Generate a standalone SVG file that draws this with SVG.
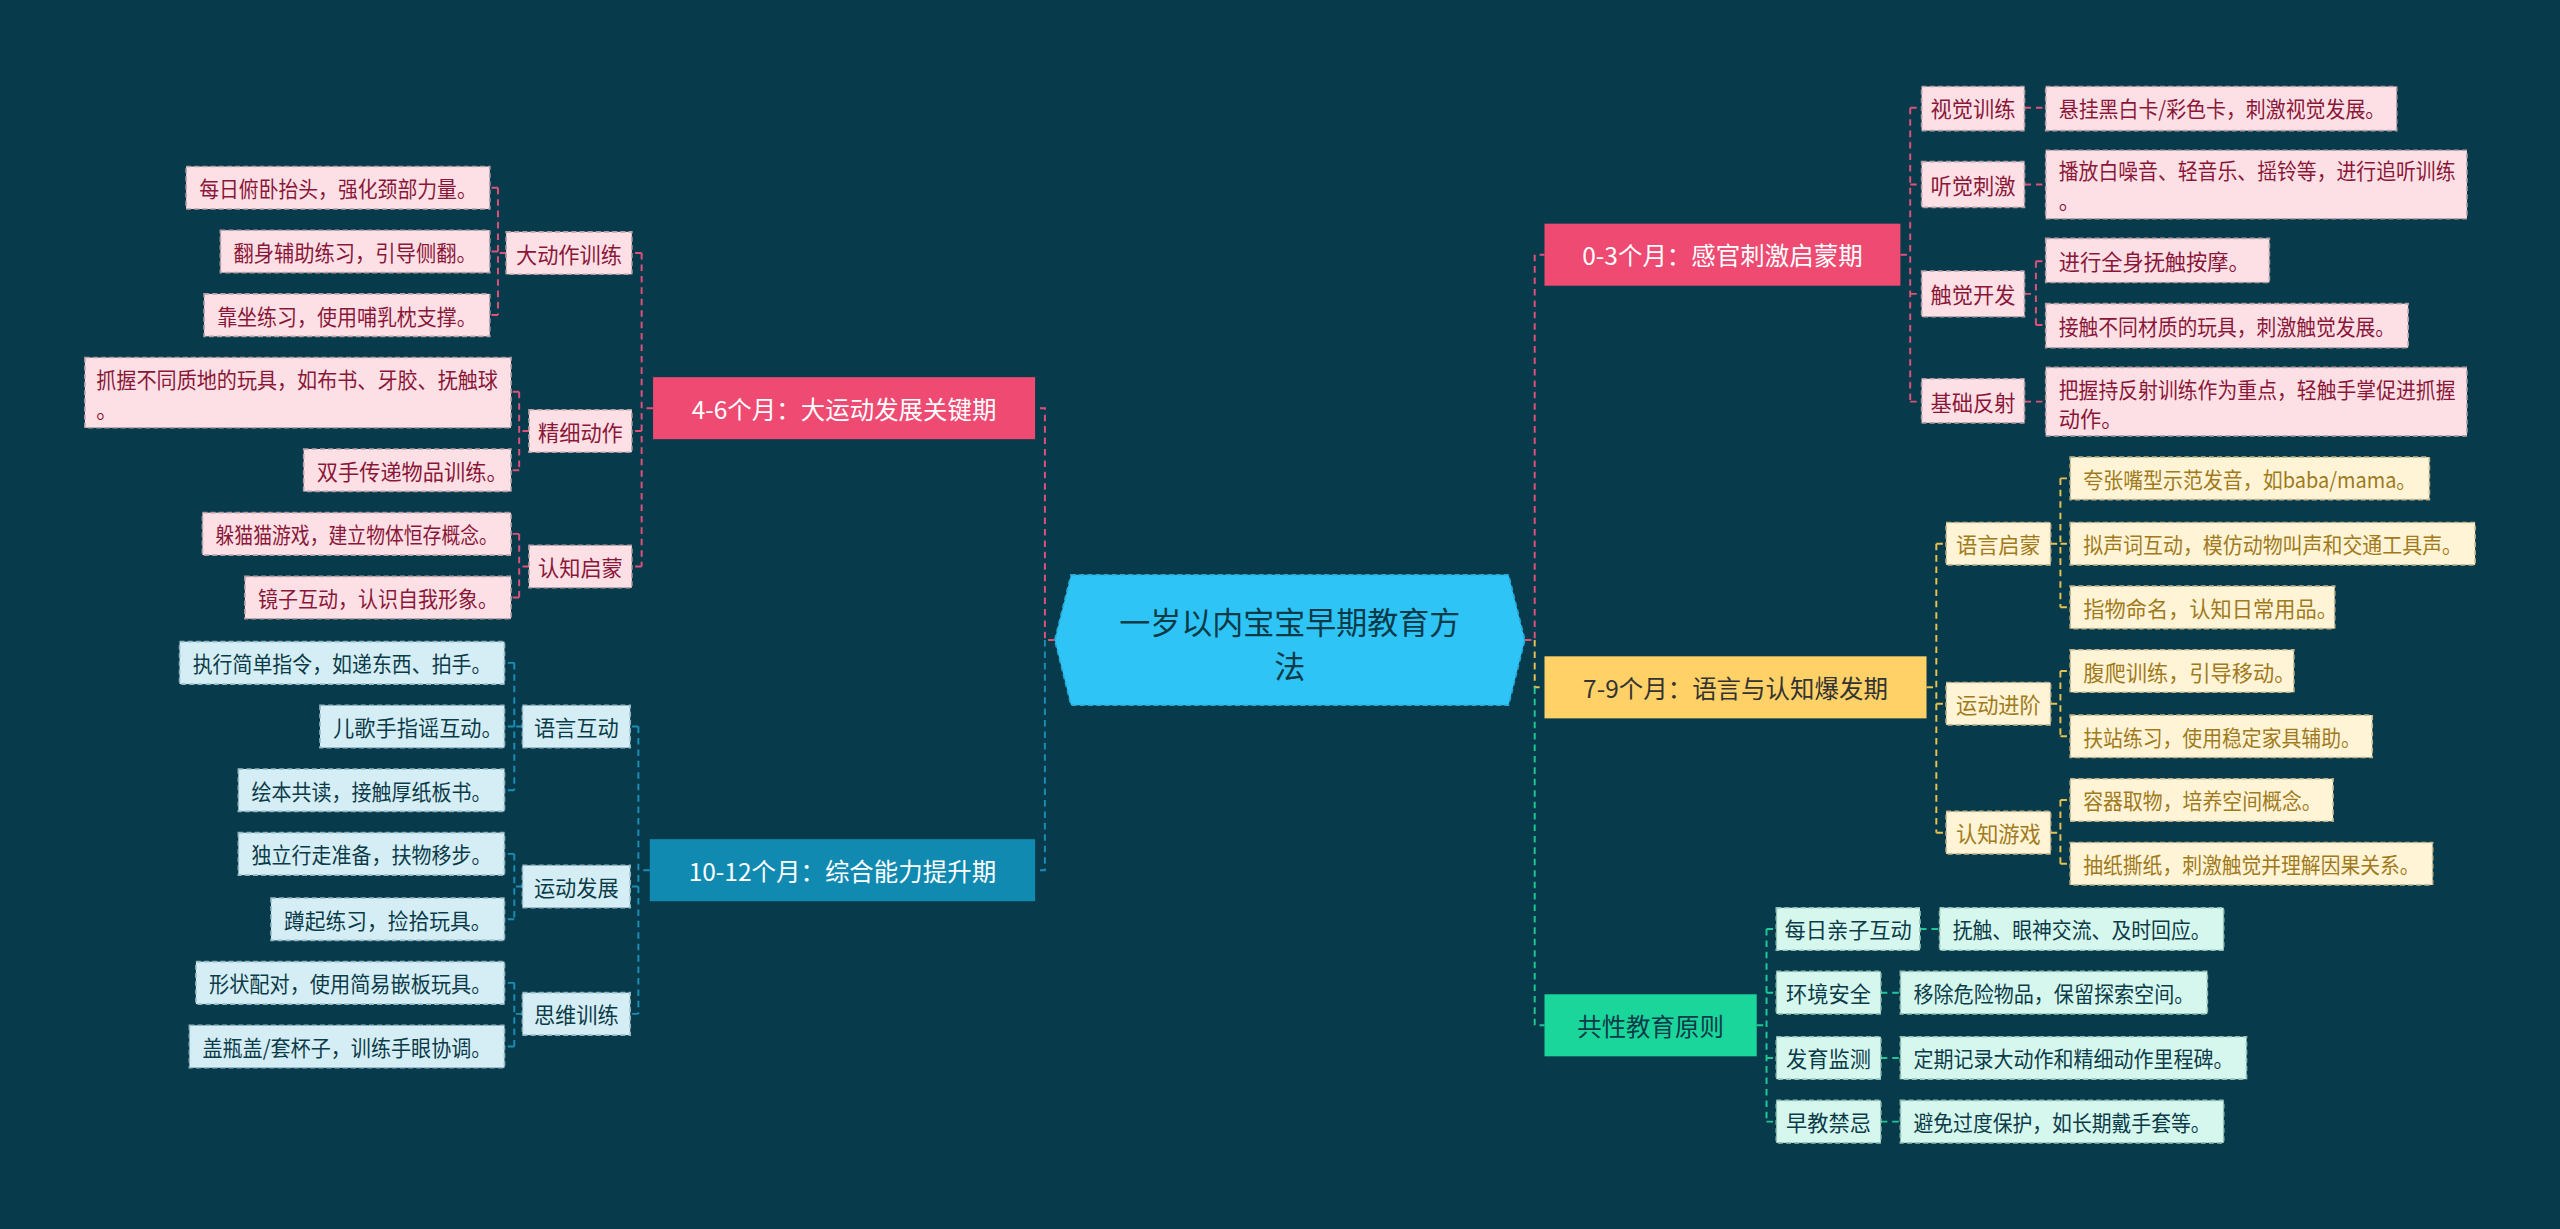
<svg xmlns="http://www.w3.org/2000/svg" width="2560" height="1229" viewBox="0 0 2560 1229">
<style>
text{font-family:"Noto Sans CJK SC","Liberation Sans",sans-serif;font-size:13px;dominant-baseline:central}
.c{stroke-width:1.2;fill:none;stroke-dasharray:4 3}
.pk{stroke:#e0517a}.yl{stroke:#e8c14f}.gr{stroke:#1fc996}.bl{stroke:#1b8db5}
.lp{fill:#fde0e6;stroke:#b9a0a6;stroke-dasharray:3 2}.tp{fill:#8a1738}
.ly{fill:#fff4d6;stroke:#c8b68a;stroke-dasharray:3 2}.ty{fill:#a07a1c}
.lg{fill:#d6f7ee;stroke:#94c2b4;stroke-dasharray:3 2}.tg{fill:#0b3b48}
.lb{fill:#d5eef6;stroke:#94b8c4;stroke-dasharray:3 2}.tb{fill:#0b3b48}
.m{font-size:15px}
.ct{font-size:19px;fill:#0b3b48}
</style>
<rect width="2560" height="1229" fill="#073a4b"/>
<g transform="scale(1.63265)">
<g id="connectors">
<path class="c pk" d="M934 392H940V156H946"/>
<path class="c yl" d="M940 392V421H946"/>
<path class="c gr" d="M940 421V628H946"/>
<path class="c pk" d="M1164 156H1170M1170 66V246M1170 66H1177M1170 113H1177M1170 180H1177M1170 246H1177"/>
<path class="c pk" d="M1240 66H1253M1240 113H1253M1240 180H1247M1247 160V199M1247 160H1253M1247 199H1253M1240 246H1253"/>
<path class="c yl" d="M1180 421H1186M1186 333V510M1186 333H1192M1186 431H1192M1186 510H1192"/>
<path class="c yl" d="M1256 333H1262M1262 293V372M1262 293H1268M1262 333H1268M1262 372H1268M1256 431H1262M1262 411V451M1262 411H1268M1262 451H1268M1256 510H1262M1262 490V529M1262 490H1268M1262 529H1268"/>
<path class="c gr" d="M1076 628H1082M1082 569V687M1082 569H1088M1082 608H1088M1082 648H1088M1082 687H1088"/>
<path class="c gr" d="M1176 569H1188M1152 608H1164M1152 648H1164M1152 687H1164"/>
<path class="c pk" d="M646 392H640V250H634"/>
<path class="c bl" d="M640 392V533H634"/>
<path class="c pk" d="M400 250H393M393 155V347M393 155H387M393 264H387M393 347H387"/>
<path class="c pk" d="M310 155H305M305 115V193M305 115H300M305 154H300M305 193H300M324 264H318M318 240V288M318 240H313M318 288H313M324 347H318M318 327V366M318 327H313M318 366H313"/>
<path class="c bl" d="M398 533H391M391 445V621M391 445H386M391 543H386M391 621H386"/>
<path class="c bl" d="M320 445H315M315 406V484M315 406H309M315 445H309M315 484H309M320 543H315M315 523V563M315 523H309M315 563H309M320 621H315M315 602V641M315 602H309M315 641H309"/>
</g>
<g id="center"><polygon points="656,352 924,352 934,392 924,432 656,432 646,392" fill="#2ec4f6" stroke="#27a9d6" stroke-dasharray="3 2"/><text class="ct" x="790" y="380" text-anchor="middle">一岁以内宝宝早期教育方</text><text class="ct" x="790" y="407" text-anchor="middle">法</text></g>
<g id="b1"><rect x="946" y="137" width="218" height="38" fill="#ee4a72"/><text class="m" x="1055" y="156" text-anchor="middle" fill="#fff">0-3个月：感官刺激启蒙期</text></g>
<g id="b1s1"><rect class="lp" x="1177" y="53" width="63" height="27"/><text class="tp" x="1208.5" y="66" text-anchor="middle">视觉训练</text></g>
<g id="b1l1"><rect class="lp" x="1253" y="53" width="215" height="27"/><text class="tp" x="1261" y="66" textLength="200" lengthAdjust="spacingAndGlyphs">悬挂黑白卡/彩色卡，刺激视觉发展。</text></g>
<g id="b1s2"><rect class="lp" x="1177" y="99" width="63" height="28"/><text class="tp" x="1208.5" y="113" text-anchor="middle">听觉刺激</text></g>
<g id="b1l2"><rect class="lp" x="1253" y="92" width="258" height="42"/><text class="tp" x="1261" y="104" textLength="243" lengthAdjust="spacingAndGlyphs">播放白噪音、轻音乐、摇铃等，进行追听训练</text><text class="tp" x="1261" y="122">。</text></g>
<g id="b1s3"><rect class="lp" x="1177" y="166" width="63" height="28"/><text class="tp" x="1208.5" y="180" text-anchor="middle">触觉开发</text></g>
<g id="b1l3"><rect class="lp" x="1253" y="146" width="137" height="27"/><text class="tp" x="1261" y="159.5">进行全身抚触按摩。</text></g>
<g id="b1l4"><rect class="lp" x="1253" y="186" width="222" height="27"/><text class="tp" x="1261" y="199.5" textLength="206" lengthAdjust="spacingAndGlyphs">接触不同材质的玩具，刺激触觉发展。</text></g>
<g id="b1s4"><rect class="lp" x="1177" y="232" width="63" height="27"/><text class="tp" x="1208.5" y="246" text-anchor="middle">基础反射</text></g>
<g id="b1l5"><rect class="lp" x="1253" y="225" width="258" height="42"/><text class="tp" x="1261" y="238" textLength="243" lengthAdjust="spacingAndGlyphs">把握持反射训练作为重点，轻触手掌促进抓握</text><text class="tp" x="1261" y="256">动作。</text></g>
<g id="b2"><rect x="946" y="402" width="234" height="38" fill="#ffd166"/><text class="m" x="1063" y="421" text-anchor="middle" fill="#333">7-9个月：语言与认知爆发期</text></g>
<g id="b2s1"><rect class="ly" x="1192" y="320" width="64" height="26"/><text class="ty" x="1224" y="333" text-anchor="middle">语言启蒙</text></g>
<g id="b2s2"><rect class="ly" x="1192" y="418" width="64" height="26"/><text class="ty" x="1224" y="431" text-anchor="middle">运动进阶</text></g>
<g id="b2s3"><rect class="ly" x="1192" y="497" width="64" height="26"/><text class="ty" x="1224" y="510" text-anchor="middle">认知游戏</text></g>
<g id="b2l1"><rect class="ly" x="1268" y="280" width="220" height="26"/><text class="ty" x="1276" y="293" textLength="204" lengthAdjust="spacingAndGlyphs">夸张嘴型示范发音，如baba/mama。</text></g>
<g id="b2l2"><rect class="ly" x="1268" y="320" width="248" height="26"/><text class="ty" x="1276" y="333" textLength="232" lengthAdjust="spacingAndGlyphs">拟声词互动，模仿动物叫声和交通工具声。</text></g>
<g id="b2l3"><rect class="ly" x="1268" y="359" width="162" height="26"/><text class="ty" x="1276" y="372">指物命名，认知日常用品。</text></g>
<g id="b2l4"><rect class="ly" x="1268" y="398" width="137" height="26"/><text class="ty" x="1276" y="411">腹爬训练，引导移动。</text></g>
<g id="b2l5"><rect class="ly" x="1268" y="438" width="185" height="26"/><text class="ty" x="1276" y="451" textLength="170" lengthAdjust="spacingAndGlyphs">扶站练习，使用稳定家具辅助。</text></g>
<g id="b2l6"><rect class="ly" x="1268" y="477" width="161" height="26"/><text class="ty" x="1276" y="490" textLength="146" lengthAdjust="spacingAndGlyphs">容器取物，培养空间概念。</text></g>
<g id="b2l7"><rect class="ly" x="1268" y="516" width="222" height="26"/><text class="ty" x="1276" y="529" textLength="206" lengthAdjust="spacingAndGlyphs">抽纸撕纸，刺激触觉并理解因果关系。</text></g>
<g id="b3"><rect x="946" y="609" width="130" height="38" fill="#1bd69a"/><text class="m" x="1011" y="628" text-anchor="middle" fill="#0b3b48">共性教育原则</text></g>
<g id="b3s1"><rect class="lg" x="1088" y="556" width="88" height="26"/><text class="tg" x="1132" y="569" text-anchor="middle">每日亲子互动</text></g>
<g id="b3s2"><rect class="lg" x="1088" y="595" width="64" height="26"/><text class="tg" x="1120" y="608" text-anchor="middle">环境安全</text></g>
<g id="b3s3"><rect class="lg" x="1088" y="635" width="64" height="26"/><text class="tg" x="1120" y="648" text-anchor="middle">发育监测</text></g>
<g id="b3s4"><rect class="lg" x="1088" y="674" width="64" height="26"/><text class="tg" x="1120" y="687" text-anchor="middle">早教禁忌</text></g>
<g id="b3l1"><rect class="lg" x="1188" y="556" width="174" height="26"/><text class="tg" x="1196" y="569" textLength="158" lengthAdjust="spacingAndGlyphs">抚触、眼神交流、及时回应。</text></g>
<g id="b3l2"><rect class="lg" x="1164" y="595" width="188" height="26"/><text class="tg" x="1172" y="608" textLength="172" lengthAdjust="spacingAndGlyphs">移除危险物品，保留探索空间。</text></g>
<g id="b3l3"><rect class="lg" x="1164" y="635" width="212" height="26"/><text class="tg" x="1172" y="648" textLength="196" lengthAdjust="spacingAndGlyphs">定期记录大动作和精细动作里程碑。</text></g>
<g id="b3l4"><rect class="lg" x="1164" y="674" width="198" height="26"/><text class="tg" x="1172" y="687" textLength="182" lengthAdjust="spacingAndGlyphs">避免过度保护，如长期戴手套等。</text></g>
<g id="b4"><rect x="400" y="231" width="234" height="38" fill="#ee4a72"/><text class="m" x="517" y="250" text-anchor="middle" fill="#fff">4-6个月：大运动发展关键期</text></g>
<g id="b4s1"><rect class="lp" x="310" y="142" width="77" height="26"/><text class="tp" x="348.5" y="155" text-anchor="middle">大动作训练</text></g>
<g id="b4s2"><rect class="lp" x="324" y="251" width="63" height="26"/><text class="tp" x="355.5" y="264" text-anchor="middle">精细动作</text></g>
<g id="b4s3"><rect class="lp" x="324" y="334" width="63" height="26"/><text class="tp" x="355.5" y="347" text-anchor="middle">认知启蒙</text></g>
<g id="b4l1"><rect class="lp" x="114" y="102" width="186" height="26"/><text class="tp" x="122" y="115" textLength="170" lengthAdjust="spacingAndGlyphs">每日俯卧抬头，强化颈部力量。</text></g>
<g id="b4l2"><rect class="lp" x="135" y="141" width="165" height="26"/><text class="tp" x="143" y="154" textLength="149" lengthAdjust="spacingAndGlyphs">翻身辅助练习，引导侧翻。</text></g>
<g id="b4l3"><rect class="lp" x="125" y="180" width="175" height="26"/><text class="tp" x="133" y="193" textLength="159" lengthAdjust="spacingAndGlyphs">靠坐练习，使用哺乳枕支撑。</text></g>
<g id="b4l4"><rect class="lp" x="52" y="219" width="261" height="43"/><text class="tp" x="59" y="232" textLength="246" lengthAdjust="spacingAndGlyphs">抓握不同质地的玩具，如布书、牙胶、抚触球</text><text class="tp" x="59" y="250">。</text></g>
<g id="b4l5"><rect class="lp" x="186" y="275" width="127" height="26"/><text class="tp" x="194" y="288">双手传递物品训练。</text></g>
<g id="b4l6"><rect class="lp" x="124" y="314" width="189" height="26"/><text class="tp" x="132" y="327" textLength="173" lengthAdjust="spacingAndGlyphs">躲猫猫游戏，建立物体恒存概念。</text></g>
<g id="b4l7"><rect class="lp" x="150" y="353" width="163" height="26"/><text class="tp" x="158" y="366" textLength="147" lengthAdjust="spacingAndGlyphs">镜子互动，认识自我形象。</text></g>
<g id="b5"><rect x="398" y="514" width="236" height="38" fill="#118ab2"/><text class="m" x="516" y="533" text-anchor="middle" fill="#fff">10-12个月：综合能力提升期</text></g>
<g id="b5s1"><rect class="lb" x="320" y="432" width="66" height="26"/><text class="tb" x="353" y="445" text-anchor="middle">语言互动</text></g>
<g id="b5s2"><rect class="lb" x="320" y="530" width="66" height="26"/><text class="tb" x="353" y="543" text-anchor="middle">运动发展</text></g>
<g id="b5s3"><rect class="lb" x="320" y="608" width="66" height="26"/><text class="tb" x="353" y="621" text-anchor="middle">思维训练</text></g>
<g id="b5l1"><rect class="lb" x="110" y="393" width="199" height="26"/><text class="tb" x="118" y="406" textLength="183" lengthAdjust="spacingAndGlyphs">执行简单指令，如递东西、拍手。</text></g>
<g id="b5l2"><rect class="lb" x="196" y="432" width="113" height="26"/><text class="tb" x="204" y="445">儿歌手指谣互动。</text></g>
<g id="b5l3"><rect class="lb" x="146" y="471" width="163" height="26"/><text class="tb" x="154" y="484" textLength="147" lengthAdjust="spacingAndGlyphs">绘本共读，接触厚纸板书。</text></g>
<g id="b5l4"><rect class="lb" x="146" y="510" width="163" height="26"/><text class="tb" x="154" y="523" textLength="147" lengthAdjust="spacingAndGlyphs">独立行走准备，扶物移步。</text></g>
<g id="b5l5"><rect class="lb" x="166" y="550" width="143" height="26"/><text class="tb" x="174" y="563" textLength="127" lengthAdjust="spacingAndGlyphs">蹲起练习，捡拾玩具。</text></g>
<g id="b5l6"><rect class="lb" x="120" y="589" width="189" height="26"/><text class="tb" x="128" y="602" textLength="173" lengthAdjust="spacingAndGlyphs">形状配对，使用简易嵌板玩具。</text></g>
<g id="b5l7"><rect class="lb" x="116" y="628" width="193" height="26"/><text class="tb" x="124" y="641" textLength="177" lengthAdjust="spacingAndGlyphs">盖瓶盖/套杯子，训练手眼协调。</text></g>
</g>
</svg>
